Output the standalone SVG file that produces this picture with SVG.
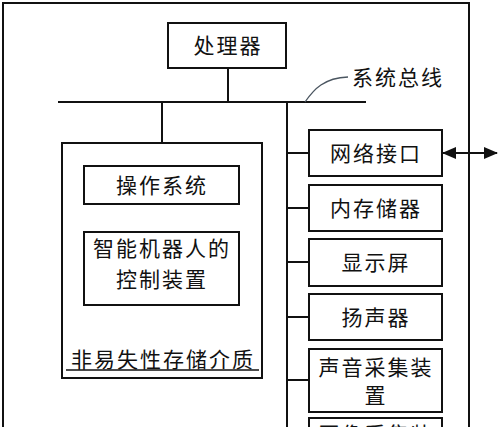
<svg xmlns="http://www.w3.org/2000/svg" width="500" height="427" viewBox="0 0 500 427">
<defs>
<style>
.box{fill:#fff;stroke:#111;stroke-width:2}
.ln{stroke:#111;stroke-width:2;fill:none}
.t{font-family:"Noto Sans CJK SC","Noto Sans CJK JP",sans-serif;font-size:21px;fill:#111;text-anchor:middle;letter-spacing:2px}
</style>
<marker id="ah" viewBox="0 0 14 12" refX="13" refY="6" markerWidth="14" markerHeight="12" markerUnits="userSpaceOnUse" orient="auto-start-reverse">
<path d="M0,0 L14,6 L0,12 Z" fill="#111"/>
</marker>
</defs>
<rect width="500" height="427" fill="#fff"/>
<g id="outer"><rect class="box" x="3" y="3" width="466" height="440"/></g>
<g id="connectors">
<line class="ln" x1="228" y1="68" x2="228" y2="102"/>
<line class="ln" x1="58" y1="102" x2="366" y2="102"/>
<line class="ln" x1="162" y1="102" x2="162" y2="143"/>
<line class="ln" x1="287" y1="102" x2="287" y2="430"/>
<line class="ln" x1="287" y1="153" x2="309" y2="153"/>
<line class="ln" x1="287" y1="208" x2="309" y2="208"/>
<line class="ln" x1="287" y1="262" x2="309" y2="262"/>
<line class="ln" x1="287" y1="317" x2="309" y2="317"/>
<line class="ln" x1="287" y1="380" x2="309" y2="380"/>
<line class="ln" x1="443" y1="153" x2="497" y2="153" marker-start="url(#ah)" marker-end="url(#ah)"/>
<path d="M305,102 C314,89 324,78 348,77" fill="none" stroke="#4a5560" stroke-width="1.3"/>
</g>
<g id="bus-label"><text class="t" x="398" y="85">系统总线</text></g>
<g id="processor"><rect class="box" x="168" y="23" width="118" height="45"/><text class="t" x="228" y="53">处理器</text></g>
<g id="nvm"><rect class="box" x="62" y="143" width="200" height="235"/>
<text class="t" x="163" y="367">非易失性存储介质</text>
<line x1="66" y1="370" x2="259" y2="370" stroke="#111" stroke-width="1.5"/></g>
<g id="os"><rect class="box" x="84" y="166" width="155" height="38"/><text class="t" x="162" y="193">操作系统</text></g>
<g id="control"><rect class="box" x="84" y="232" width="155" height="73"/><text class="t" x="162" y="256">智能机器人的</text><text class="t" x="162" y="287">控制装置</text></g>
<g id="network"><rect class="box" x="309" y="130" width="133" height="46"/><text class="t" x="376" y="161">网络接口</text></g>
<g id="memory"><rect class="box" x="309" y="185" width="133" height="46"/><text class="t" x="376" y="216">内存储器</text></g>
<g id="display"><rect class="box" x="309" y="239" width="133" height="47"/><text class="t" x="376" y="270">显示屏</text></g>
<g id="speaker"><rect class="box" x="309" y="294" width="133" height="46"/><text class="t" x="376" y="325">扬声器</text></g>
<g id="audio"><rect class="box" x="309" y="349" width="133" height="63"/><text class="t" x="376" y="375">声音采集装</text><text class="t" x="376" y="403">置</text></g>
<g id="image"><rect class="box" x="309" y="418" width="133" height="63"/><text class="t" x="376" y="442">图像采集装</text></g>
</svg>
